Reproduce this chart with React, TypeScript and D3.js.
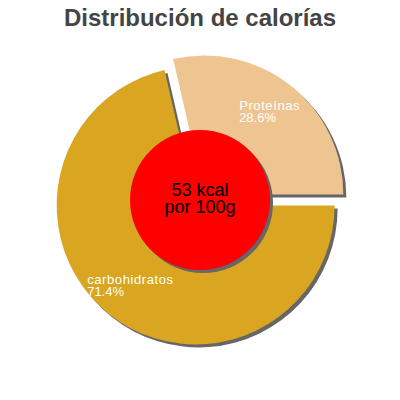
import React from "react";
import * as d3 from "d3";

const categories = ["carbohidratos", "Proteínas"];
const percents = [71.4, 28.6];
const sliceColors = ["#DAA520", "#EEC591"];
const kcal = 53;
const title = "Distribución de calorías";

type Slice = { name: string; value: number; color: string };

export default function App() {
  const width = 400;
  const height = 400;
  const cx = 200;
  const cy = 200;
  const radius = 139;
  const innerR = 70;
  const explode = 7;
  const shadow = 3;

  const data: Slice[] = categories.map((name, i) => ({
    name,
    value: percents[i],
    color: sliceColors[i],
  }));

  const pie = d3
    .pie<Slice>()
    .sort(null)
    .value((d) => d.value)
    .startAngle(Math.PI / 2)
    .endAngle(Math.PI / 2 + 2 * Math.PI);
  const arcs = pie(data);
  const arc = d3.arc<d3.PieArcDatum<Slice>>().innerRadius(0).outerRadius(radius);

  const offset = (a: d3.PieArcDatum<Slice>, r: number) => {
    const mid = (a.startAngle + a.endAngle) / 2;
    return [Math.sin(mid) * r, -Math.cos(mid) * r];
  };

  return (
    <div style={{ position: "fixed", left: 0, top: 0 }}>
      <svg width={width} height={height} fontFamily="'Liberation Sans', Arial, sans-serif">
        <rect width={width} height={height} fill="#fff" />
        <text
          x={200}
          y={26}
          textAnchor="middle"
          fontSize={24}
          fontWeight="bold"
          fill="#444"
        >
          {title}
        </text>
        {/* shadows */}
        {arcs.map((a) => {
          const [dx, dy] = offset(a, explode);
          return (
            <path
              key={"s" + a.data.name}
              d={arc(a) ?? ""}
              transform={`translate(${cx + dx + shadow},${cy + dy + shadow})`}
              fill="#666"
            />
          );
        })}
        {arcs.map((a) => {
          const [dx, dy] = offset(a, explode);
          return (
            <path
              key={a.data.name}
              d={arc(a) ?? ""}
              transform={`translate(${cx + dx},${cy + dy})`}
              fill={a.data.color}
            />
          );
        })}
        {arcs.map((a) => {
          const [dx, dy] = offset(a, explode);
          const [lx, ly] = offset(a, radius * 0.75);
          const x0 = cx + dx + lx - (a.data.name.length * 6.7) / 2;
          const y0 = cy + dy + ly - 3;
          return (
            <text
              key={"l" + a.data.name}
              fill="#fff"
              fontSize={13}
              letterSpacing={0.6}
            >
              <tspan x={x0} y={y0}>
                {a.data.name}
              </tspan>
              <tspan x={x0} y={y0 + 12} letterSpacing={0}>
                {a.data.value.toFixed(1)}%
              </tspan>
            </text>
          );
        })}
        <circle cx={cx + shadow} cy={cy + shadow} r={innerR} fill="#666" />
        <circle cx={cx} cy={cy} r={innerR} fill="#FF0000" />
        <text textAnchor="middle" fontSize={18} fill="#000">
          <tspan x={cx} y={196}>
            {kcal} kcal
          </tspan>
          <tspan x={cx} y={213}>
            por 100g
          </tspan>
        </text>
      </svg>
    </div>
  );
}
